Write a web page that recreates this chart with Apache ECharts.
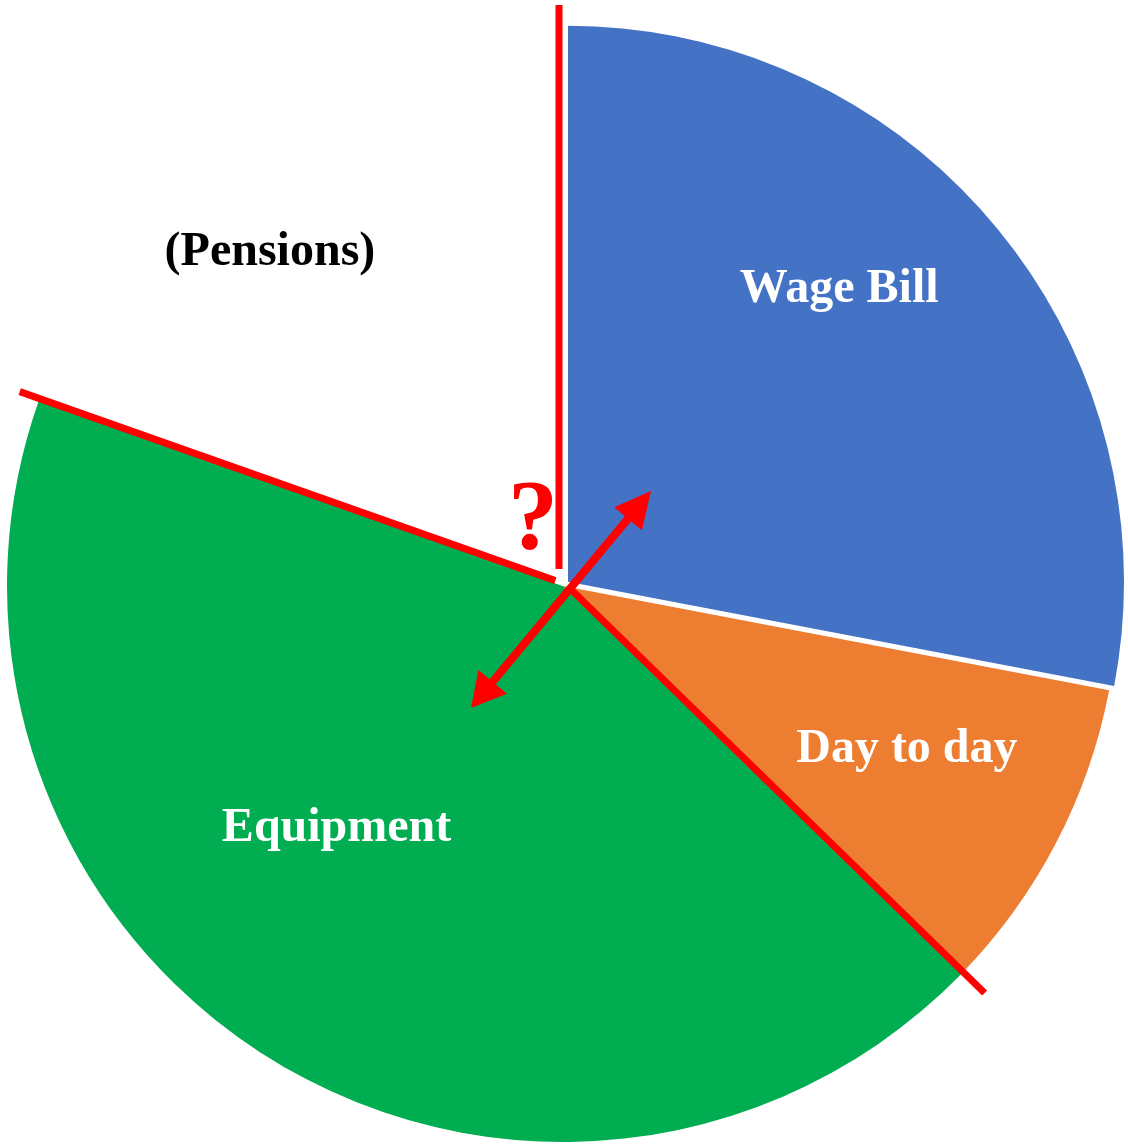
<!DOCTYPE html>
<html>
<head>
<meta charset="utf-8">
<script src="https://cdn.jsdelivr.net/npm/echarts@6/dist/echarts.min.js"></script>
<style>
html,body{margin:0;padding:0;background:#fff;}
#main{width:1128px;height:1146px;}
</style>
</head>
<body>
<div id="main"></div>
<script>
// ---- data ----
const categories = ['Wage Bill', 'Day to day', 'Equipment', '(Pensions)'];
const values = [28.0, 9.3, 43.1, 19.6];           // share of the whole, %
const colors = ['#4472C4', '#ED7D31', '#00AD50', '#FFFFFF'];
const labelColors = ['#FFFFFF', '#FFFFFF', '#FFFFFF', '#000000'];

// ---- layout / style ----
const CX = 563, CY = 586, R = 556;
const EXPLODE = 6.5;   // pull-out distance of the Wage Bill slice
// label placement in polar terms (degrees clockwise from 12 o'clock, radius px)
const labelAngle = [43, 115.5, 223, 318.7];
const labelRadius = [405, 381, 332, 444];
const RED = '#FF0000';

function polar(angDeg, r) {
  const a = angDeg * Math.PI / 180;
  return [CX + r * Math.sin(a), CY - r * Math.cos(a)];
}
function radialLine(angDeg, r0, r1, perp) {
  const a = angDeg * Math.PI / 180;
  const nx = Math.cos(a), ny = Math.sin(a);
  const p0 = polar(angDeg, r0), p1 = polar(angDeg, r1);
  return { x1: p0[0] + nx * perp, y1: p0[1] + ny * perp, x2: p1[0] + nx * perp, y2: p1[1] + ny * perp };
}

// cumulative slice boundary angles derived from the data
const total = values.reduce((s, v) => s + v, 0);
const bounds = [0];
values.forEach(v => bounds.push(bounds[bounds.length - 1] + v / total * 360));

function arrowHead(tip, from, len, width) {
  const dx = tip[0] - from[0], dy = tip[1] - from[1];
  const L = Math.hypot(dx, dy);
  const ux = dx / L, uy = dy / L;
  const bx = tip[0] - ux * len, by = tip[1] - uy * len;
  const px = -uy, py = ux;
  return [[tip[0], tip[1]], [bx + px * width / 2, by + py * width / 2], [bx - px * width / 2, by - py * width / 2]];
}
const tipA = [CX + 88, CY - 95];
const tipB = [CX - 92, CY + 122];

const chart = echarts.init(document.getElementById('main'), null, { renderer: 'canvas' });

const labelBase = {
  show: true,
  position: 'inside',
  formatter: '{b}',
  fontFamily: 'Liberation Serif',
  fontWeight: 'bold',
  fontSize: 48
};
function layoutFor(indexOf) {
  return function (params) {
    const i = indexOf(params);
    const p = polar(labelAngle[i], labelRadius[i]);
    return { x: p[0], y: p[1], align: 'center', verticalAlign: 'middle' };
  };
}

// main pie: all slices except the exploded Wage Bill (kept as a transparent gap)
const mainData = categories.map((name, i) => ({
  name,
  value: values[i],
  itemStyle: { color: i === 0 ? 'rgba(0,0,0,0)' : colors[i] },
  label: { show: i !== 0, color: labelColors[i] }
}));

// exploded Wage Bill slice: same angles, centre pulled out along its mid-angle
const midWage = (bounds[0] + bounds[1]) / 2 * Math.PI / 180;
const explodedCenter = [CX + EXPLODE * Math.sin(midWage), CY - EXPLODE * Math.cos(midWage)];
const wageData = [
  { name: categories[0], value: values[0], itemStyle: { color: colors[0] }, label: { color: labelColors[0] } },
  { name: '', value: total - values[0], itemStyle: { color: 'rgba(0,0,0,0)' }, label: { show: false } }
];

const lineStyle = { stroke: RED, lineWidth: 7 };
const v = radialLine(bounds[0], 17, 581, -4);
const l2 = radialLine(bounds[3], 9, 577, 2.5);
const l3 = radialLine(bounds[2], 5, 586, -3);

const shaftA = arrowHead(tipA, tipB, 30, 0);
const shaftB = arrowHead(tipB, tipA, 30, 0);

const pieCommon = {
  type: 'pie',
  radius: [0, R],
  startAngle: 90,
  clockwise: true,
  silent: true,
  avoidLabelOverlap: false,
  label: labelBase,
  labelLine: { show: false },
  itemStyle: { borderWidth: 0 }
};

chart.setOption({
  animation: false,
  backgroundColor: '#fff',
  series: [
    Object.assign({}, pieCommon, {
      center: [CX, CY],
      labelLayout: layoutFor(p => p.dataIndex),
      data: mainData
    }),
    Object.assign({}, pieCommon, {
      center: explodedCenter,
      labelLayout: layoutFor(() => 0),
      data: wageData
    })
  ],
  graphic: [
    { type: 'line', z: 100, shape: v, style: lineStyle },
    { type: 'line', z: 100, shape: l2, style: lineStyle },
    { type: 'line', z: 100, shape: l3, style: lineStyle },
    { type: 'line', z: 100, shape: { x1: shaftA[1][0], y1: shaftA[1][1], x2: shaftB[1][0], y2: shaftB[1][1] }, style: { stroke: RED, lineWidth: 8 } },
    { type: 'polygon', z: 101, shape: { points: arrowHead(tipA, tipB, 36, 36) }, style: { fill: RED } },
    { type: 'polygon', z: 101, shape: { points: arrowHead(tipB, tipA, 34, 37) }, style: { fill: RED } },
    { type: 'text', z: 102, x: CX - 30, y: CY - 64,
      style: { text: '?', fill: RED, font: 'bold 100px "Liberation Serif"', align: 'center', verticalAlign: 'middle' } }
  ]
});
</script>
</body>
</html>
